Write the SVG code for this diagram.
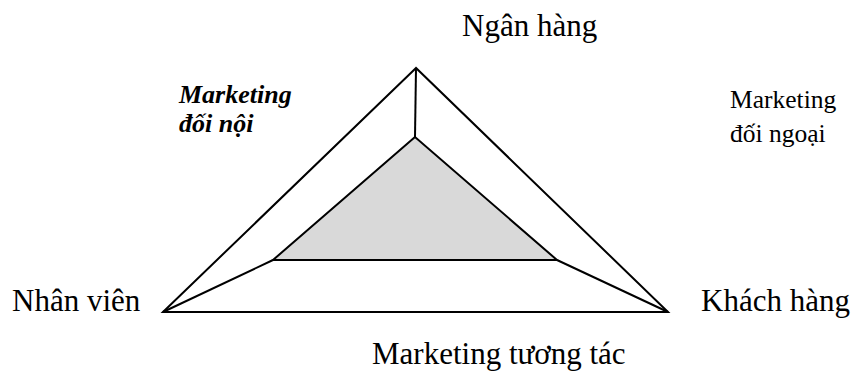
<svg xmlns="http://www.w3.org/2000/svg" width="853" height="371" viewBox="0 0 853 371">
  <style>
    .edge { stroke: #000; stroke-width: 2; fill: none; stroke-linejoin: miter; }
    .core { stroke: #000; stroke-width: 2; fill: #d9d9d9; }
    text { font-family: "Liberation Serif", serif; fill: #000; }
    .big { font-size: 31px; }
    .em { font-size: 26px; font-weight: bold; font-style: italic; }
    .note { font-size: 25.5px; }
  </style>
  <rect width="853" height="371" fill="#fff"/>

  <!-- outer triangle and spokes -->
  <g id="connectors">
    <polygon class="edge" points="416,68 163,312 668,312"/>
    <line class="edge" x1="163" y1="312" x2="668" y2="312" stroke-width="3"/>
    <line class="edge" x1="416" y1="68" x2="415" y2="137"/>
    <line class="edge" x1="163" y1="312" x2="273" y2="260"/>
    <line class="edge" x1="668" y1="312" x2="557" y2="260"/>
  </g>

  <!-- shaded inner triangle -->
  <g id="core">
    <polygon class="core" points="415,137 273,260 557,260"/>
  </g>

  <g id="bank">
    <text class="big" x="462" y="36">Ngân hàng</text>
  </g>
  <g id="staff">
    <text class="big" x="12" y="311">Nhân viên</text>
  </g>
  <g id="customer">
    <text class="big" x="701" y="311">Khách hàng</text>
  </g>
  <g id="internal">
    <text class="em" x="179" y="103">Marketing</text>
    <text class="em" x="179" y="132">đối nội</text>
  </g>
  <g id="external">
    <text class="note" x="730" y="108">Marketing</text>
    <text class="note" x="730" y="142">đối ngoại</text>
  </g>
  <g id="interactive">
    <text class="big" x="372" y="364">Marketing tương tác</text>
  </g>
</svg>
